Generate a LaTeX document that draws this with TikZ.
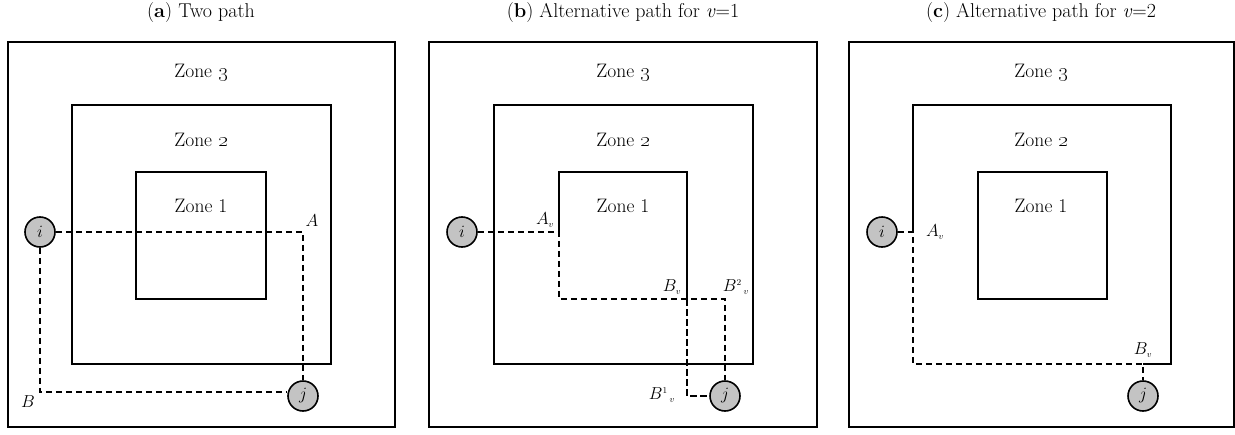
\documentclass[tikz,border=0pt]{standalone}
\usepackage{amsmath}
\begin{document}
\begin{tikzpicture}[x=1pt,y=-1pt,
  outerbox/.style={line width=2.5pt},
  zonebox/.style={line width=1.8pt},
  pathline/.style={line width=2.8pt, dash pattern=on 6.5pt off 3.5pt},
  vertex/.style={circle, draw, line width=1.6pt, fill={rgb,255:red,195;green,195;blue,195}, minimum size=30pt, inner sep=0pt, font=\fontsize{19}{22}\selectfont},
  zonelab/.style={font=\fontsize{19.5}{22}\selectfont},
  ptlab/.style={font=\fontsize{19}{22}\selectfont, inner sep=0pt},
  titlelab/.style={font=\fontsize{20}{24}\selectfont}
]
\useasboundingbox (0,0) rectangle (1235,434);
% ---------- titles
\node[titlelab] (ta) at (201,13) {(\textbf{a}) Two path};
\node[titlelab] (tb) at (623,13) {(\textbf{b}) Alternative path for \textit{v}=1};
\node[titlelab] (tc) at (1041,13) {(\textbf{c}) Alternative path for \textit{v}=2};

% ================= panel a
\draw[outerbox] (8,42) rectangle (395,427);
\draw[zonebox] (72,105) rectangle (331,364);
\draw[zonebox] (136,172) rectangle (266,299);
\node[zonelab] (za3) at (201,73) {Zone \oldstylenums{3}};
\node[zonelab] (za2) at (201,140) {Zone \oldstylenums{2}};
\node[zonelab] (za1) at (201,206) {Zone 1};
\node[vertex] (ai) at (40,232) {$i$};
\node[vertex] (aj) at (303,396) {$j$};
\coordinate (aA) at (303,232);
\coordinate (aB) at (40,392);
\draw[pathline] (ai.east) -- (aA) -- (aj.north);
\draw[pathline] (ai.south) -- (aB) -- (aj.west |- aB);
\node[ptlab] (lA) at (312,221) {$A$};
\node[ptlab] (lB) at (28,402) {$B$};

% ================= panel b
\draw[outerbox] (429,42) rectangle (817,427);
\draw[zonebox] (494,105) rectangle (753,364);
\draw[zonebox] (559,232) -- (559,172) -- (687,172) -- (687,299);
\node[zonelab] (zb3) at (623,73) {Zone \oldstylenums{3}};
\node[zonelab] (zb2) at (623,140) {Zone \oldstylenums{2}};
\node[zonelab] (zb1) at (623,206) {Zone 1};
\node[vertex] (bi) at (462,232) {$i$};
\node[vertex] (bj) at (725,396) {$j$};
\coordinate (bA) at (559,232);
\coordinate (bB) at (687,299);
\coordinate (bB2) at (725,299);
\coordinate (bB1) at (687,396);
\draw[pathline] (bi.east) -- (bA) -- (559,299) -- (bB) -- (bB2) -- (bj.north);
\draw[pathline] (bB) -- (bB1) -- (bj.west);
\node[ptlab] (lAv) at (545,220) {$A_{\scriptscriptstyle v}$};
\node[ptlab] (lBv) at (672,287) {$B_{\scriptscriptstyle v}$};
\node[ptlab] (lB2v) at (736,287) {$B^{\scriptscriptstyle 2}\mkern2mu{}_{\scriptscriptstyle v}$};
\node[ptlab] (lB1v) at (662,395) {$B^{\scriptscriptstyle 1}\mkern2mu{}_{\scriptscriptstyle v}$};

% ================= panel c
\draw[outerbox] (849,42) rectangle (1234,427);
\draw[zonebox] (913,232) -- (913,105) -- (1171,105) -- (1171,364) -- (1143,364);
\draw[zonebox] (978,172) rectangle (1107,299);
\node[zonelab] (zc3) at (1041,73) {Zone \oldstylenums{3}};
\node[zonelab] (zc2) at (1041,140) {Zone \oldstylenums{2}};
\node[zonelab] (zc1) at (1041,206) {Zone 1};
\node[vertex] (ci) at (882,232) {$i$};
\node[vertex] (cj) at (1143,396) {$j$};
\coordinate (cA) at (913,232);
\coordinate (cB) at (1143,364);
\draw[pathline] (ci.east) -- (cA) -- (913,364) -- (cB) -- (cj.north);
\node[ptlab] (lcAv) at (935,232) {$A_{\scriptscriptstyle v}$};
\node[ptlab] (lcBv) at (1143,350) {$B_{\scriptscriptstyle v}$};
\end{tikzpicture}
\end{document}
